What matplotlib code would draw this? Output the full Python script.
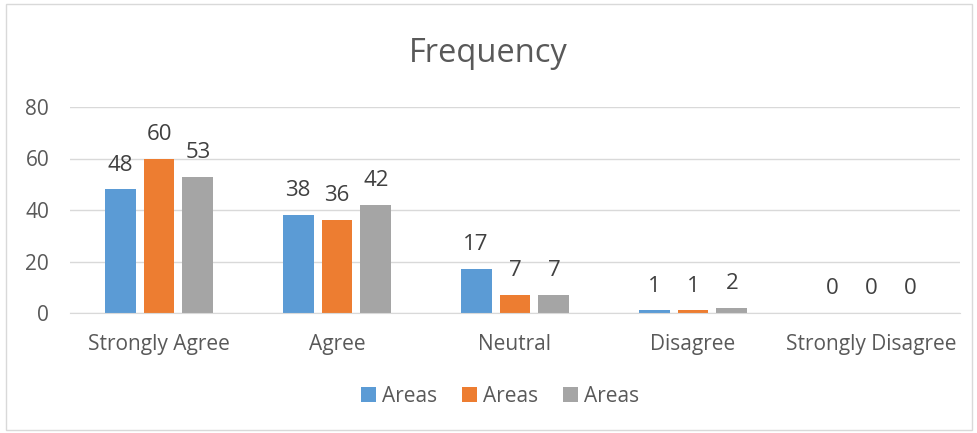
import matplotlib.pyplot as plt
import numpy as np
from matplotlib.patches import Rectangle

# données
categories = ["Strongly Agree", "Agree", "Neutral", "Disagree", "Strongly Disagree"]
series_names = ["Areas", "Areas", "Areas"]
serie1 = [48, 38, 17, 1, 0]
serie2 = [60, 36, 7, 1, 0]
serie3 = [53, 42, 7, 2, 0]
couleurs = ["#5B9BD5", "#ED7D31", "#A5A5A5"]

plt.rcParams['font.family'] = ['Open Sans', 'DejaVu Sans']
gris_texte = "#595959"

fig = plt.figure(figsize=(9.77, 4.33), dpi=100)
ax = fig.add_axes([70/977, 1 - 313/433, 890/977, (313 - 107)/433])

x = np.arange(len(categories))
largeur = 0.174
pas = 0.219
for i, (vals, c, nom) in enumerate(zip([serie1, serie2, serie3], couleurs, series_names)):
    barres = ax.bar(x + (i - 1) * pas, vals, largeur, color=c, label=nom, zorder=3)
    ax.bar_label(barres, padding=10, fontsize=16, color="#404040")

ax.set_xlim(-0.5, len(categories) - 0.5)
ax.set_ylim(0, 80)
ax.set_yticks([0, 20, 40, 60, 80])
ax.set_xticks(x)
ax.set_xticklabels(categories)
ax.tick_params(axis='both', length=0, labelsize=15, colors=gris_texte)
ax.tick_params(axis='x', pad=15)
ax.tick_params(axis='y', pad=15)
ax.grid(axis='y', color="#D9D9D9", linewidth=1, zorder=0)
for s in ["top", "right", "left"]:
    ax.spines[s].set_visible(False)
ax.spines["bottom"].set_color("#D9D9D9")
ax.spines["bottom"].set_zorder(4)

fig.text(0.5, 1 - 53/433, "Frequency", ha="center", va="center", fontsize=23.5, color=gris_texte)

leg = fig.legend(loc="center", bbox_to_anchor=(0.512, 1 - 396/433), ncol=3, frameon=False,
                 fontsize=15, handlelength=0.7, handleheight=0.7, handletextpad=0.3,
                 columnspacing=1.2)
for t in leg.get_texts():
    t.set_color(gris_texte)

# cadre du graphique
fig.patches.append(Rectangle((6/977, 3/433), 966/977, 426/433, transform=fig.transFigure,
                             fill=False, edgecolor="#D9D9D9", linewidth=1))

fig.savefig("out.png", dpi=100)
